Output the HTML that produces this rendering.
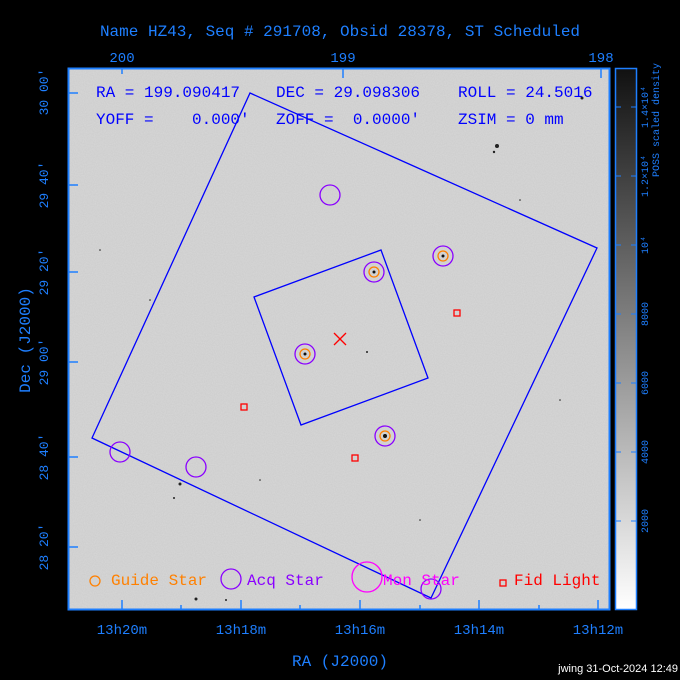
<!DOCTYPE html>
<html><head><meta charset="utf-8"><style>
body{margin:0;background:#000;}
svg{display:block;font-family:"Liberation Mono",monospace;}
.pre{white-space:pre;}
</style></head><body>
<svg width="680" height="680" viewBox="0 0 680 680" xmlns="http://www.w3.org/2000/svg">
<defs>
<linearGradient id="cb" x1="0" y1="1" x2="0" y2="0">
<stop offset="0" stop-color="#ffffff"/><stop offset="1" stop-color="#111111"/>
</linearGradient>
<filter id="noise"><feTurbulence type="fractalNoise" baseFrequency="0.9" numOctaves="1" seed="3"/><feColorMatrix values="0 0 0 0 0  0 0 0 0 0  0 0 0 0 0  0 0 0 0.06 0"/></filter>
</defs>
<rect width="680" height="680" fill="#000"/>
<rect x="68" y="68" width="542" height="542" fill="#d8d8d8"/>
<rect x="68" y="68" width="542" height="542" filter="url(#noise)"/>
<g fill="#222">
<circle cx="497" cy="146" r="2"/><circle cx="494" cy="152" r="1.2"/><circle cx="180" cy="484" r="1.5"/><circle cx="582" cy="98" r="1.5"/><circle cx="196" cy="599" r="1.5"/><circle cx="174" cy="498" r="1"/><circle cx="226" cy="600" r="1"/><circle cx="367" cy="352" r="1"/><circle cx="150" cy="300" r="0.8"/><circle cx="520" cy="200" r="0.8"/><circle cx="420" cy="520" r="0.8"/><circle cx="260" cy="480" r="0.8"/><circle cx="560" cy="400" r="0.8"/><circle cx="100" cy="250" r="0.8"/>
</g>
<text x="340" y="36" fill="#1e7fff" font-size="16" text-anchor="middle">Name HZ43, Seq # 291708, Obsid 28378, ST Scheduled</text>
<g fill="#1e7fff" font-size="14" text-anchor="middle">
<text x="122" y="62">200</text><text x="343" y="62">199</text><text x="601" y="62">198</text>
<text x="122" y="634">13h20m</text><text x="241" y="634">13h18m</text><text x="360" y="634">13h16m</text><text x="479" y="634">13h14m</text><text x="598" y="634">13h12m</text>
<text x="340" y="666" font-size="16">RA (J2000)</text>
</g>
<g fill="#1e7fff" font-size="13" text-anchor="middle">
<text transform="translate(48,92) rotate(-90)">30 00'</text>
<text transform="translate(48,185) rotate(-90)">29 40'</text>
<text transform="translate(48,272) rotate(-90)">29 20'</text>
<text transform="translate(48,362) rotate(-90)">29 00'</text>
<text transform="translate(48,457) rotate(-90)">28 40'</text>
<text transform="translate(48,547) rotate(-90)">28 20'</text>
<text transform="translate(30,340) rotate(-90)" font-size="16">Dec (J2000)</text>
</g>
<rect x="68.5" y="68.5" width="541" height="541" fill="none" stroke="#1e7fff" stroke-width="2"/>
<g stroke="#1e7fff" stroke-width="1.5">
<line x1="122" y1="610" x2="122" y2="600"/><line x1="241" y1="610" x2="241" y2="600"/><line x1="360" y1="610" x2="360" y2="600"/><line x1="479" y1="610" x2="479" y2="600"/><line x1="598" y1="610" x2="598" y2="600"/>
<line x1="181" y1="610" x2="181" y2="605"/><line x1="300" y1="610" x2="300" y2="605"/><line x1="420" y1="610" x2="420" y2="605"/><line x1="539" y1="610" x2="539" y2="605"/>
<line x1="122" y1="68" x2="122" y2="74"/><line x1="343" y1="68" x2="343" y2="78"/><line x1="601" y1="68" x2="601" y2="78"/>
<line x1="68" y1="93" x2="78" y2="93"/><line x1="68" y1="185" x2="78" y2="185"/><line x1="68" y1="272" x2="78" y2="272"/><line x1="68" y1="362" x2="78" y2="362"/><line x1="68" y1="457" x2="78" y2="457"/><line x1="68" y1="547" x2="78" y2="547"/>
</g>
<g fill="#0000ff" font-size="16" class="pre">
<text x="96" y="97" class="pre">RA = 199.090417</text><text x="276" y="97" class="pre">DEC = 29.098306</text><text x="458" y="97" class="pre">ROLL = 24.5016</text>
<text x="96" y="124" class="pre">YOFF =    0.000'</text><text x="276" y="124" class="pre">ZOFF =  0.0000'</text><text x="458" y="124" class="pre">ZSIM = 0 mm</text>
</g>
<g fill="none" stroke="#0000ff" stroke-width="1.3">
<polygon points="250,93 597,248 431,598 92,438"/>
<polygon points="254,297 381,250 428,378 301,425"/>
</g>
<g fill="none" stroke="#8a00ff" stroke-width="1.3">
<circle cx="330" cy="195" r="10"/><circle cx="374" cy="272" r="10"/><circle cx="443" cy="256" r="10"/><circle cx="305" cy="354" r="10"/><circle cx="385" cy="436" r="10"/><circle cx="120" cy="452" r="10"/><circle cx="196" cy="467" r="10"/><circle cx="431" cy="589" r="10"/>
<circle cx="231" cy="579" r="10"/>
</g>
<g fill="none" stroke="#ff8000" stroke-width="1.3">
<circle cx="374" cy="272" r="5"/><circle cx="443" cy="256" r="5"/><circle cx="305" cy="354" r="5"/><circle cx="385" cy="436" r="5"/><circle cx="95" cy="581" r="5"/>
</g>
<g fill="#111"><circle cx="374" cy="272" r="1.5"/><circle cx="443" cy="256" r="1.5"/><circle cx="305" cy="354" r="1.5"/><circle cx="385" cy="436" r="2"/></g>
<g fill="none" stroke="#ff00ff" stroke-width="1.3"><circle cx="367" cy="577" r="15"/></g>
<g fill="none" stroke="#ff0000" stroke-width="1.3">
<rect x="454" y="310" width="6" height="6"/><rect x="241" y="404" width="6" height="6"/><rect x="352" y="455" width="6" height="6"/><rect x="500" y="580" width="6" height="6"/>
<line x1="334" y1="333" x2="346" y2="345"/><line x1="346" y1="333" x2="334" y2="345"/>
</g>
<g font-size="16">
<text x="111" y="585" fill="#ff8000">Guide Star</text>
<text x="247" y="585" fill="#8a00ff">Acq Star</text>
<text x="383" y="585" fill="#ff00ff">Mon Star</text>
<text x="514" y="585" fill="#ff0000">Fid Light</text>
</g>
<rect x="615.5" y="68.5" width="21" height="541" fill="url(#cb)" stroke="#1e7fff" stroke-width="1.5"/>
<g stroke="#1e7fff" stroke-width="1">
<line x1="615" y1="107" x2="621" y2="107"/><line x1="631" y1="107" x2="637" y2="107"/>
<line x1="615" y1="176" x2="621" y2="176"/><line x1="631" y1="176" x2="637" y2="176"/>
<line x1="615" y1="245" x2="621" y2="245"/><line x1="631" y1="245" x2="637" y2="245"/>
<line x1="615" y1="314" x2="621" y2="314"/><line x1="631" y1="314" x2="637" y2="314"/>
<line x1="615" y1="383" x2="621" y2="383"/><line x1="631" y1="383" x2="637" y2="383"/>
<line x1="615" y1="452" x2="621" y2="452"/><line x1="631" y1="452" x2="637" y2="452"/>
<line x1="615" y1="521" x2="621" y2="521"/><line x1="631" y1="521" x2="637" y2="521"/>
</g>
<g fill="#1e7fff" font-size="10" text-anchor="middle">
<text transform="translate(648,107) rotate(-90)">1.4×10⁴</text>
<text transform="translate(648,176) rotate(-90)">1.2×10⁴</text>
<text transform="translate(648,245) rotate(-90)">10⁴</text>
<text transform="translate(648,314) rotate(-90)">8000</text>
<text transform="translate(648,383) rotate(-90)">6000</text>
<text transform="translate(648,452) rotate(-90)">4000</text>
<text transform="translate(648,521) rotate(-90)">2000</text>
<text transform="translate(659,120) rotate(-90)">POSS scaled density</text>
</g>
<text x="678" y="672" fill="#fff" font-size="11" font-family="Liberation Sans,sans-serif" text-anchor="end">jwing 31-Oct-2024 12:49</text>
</svg>
</body></html>
